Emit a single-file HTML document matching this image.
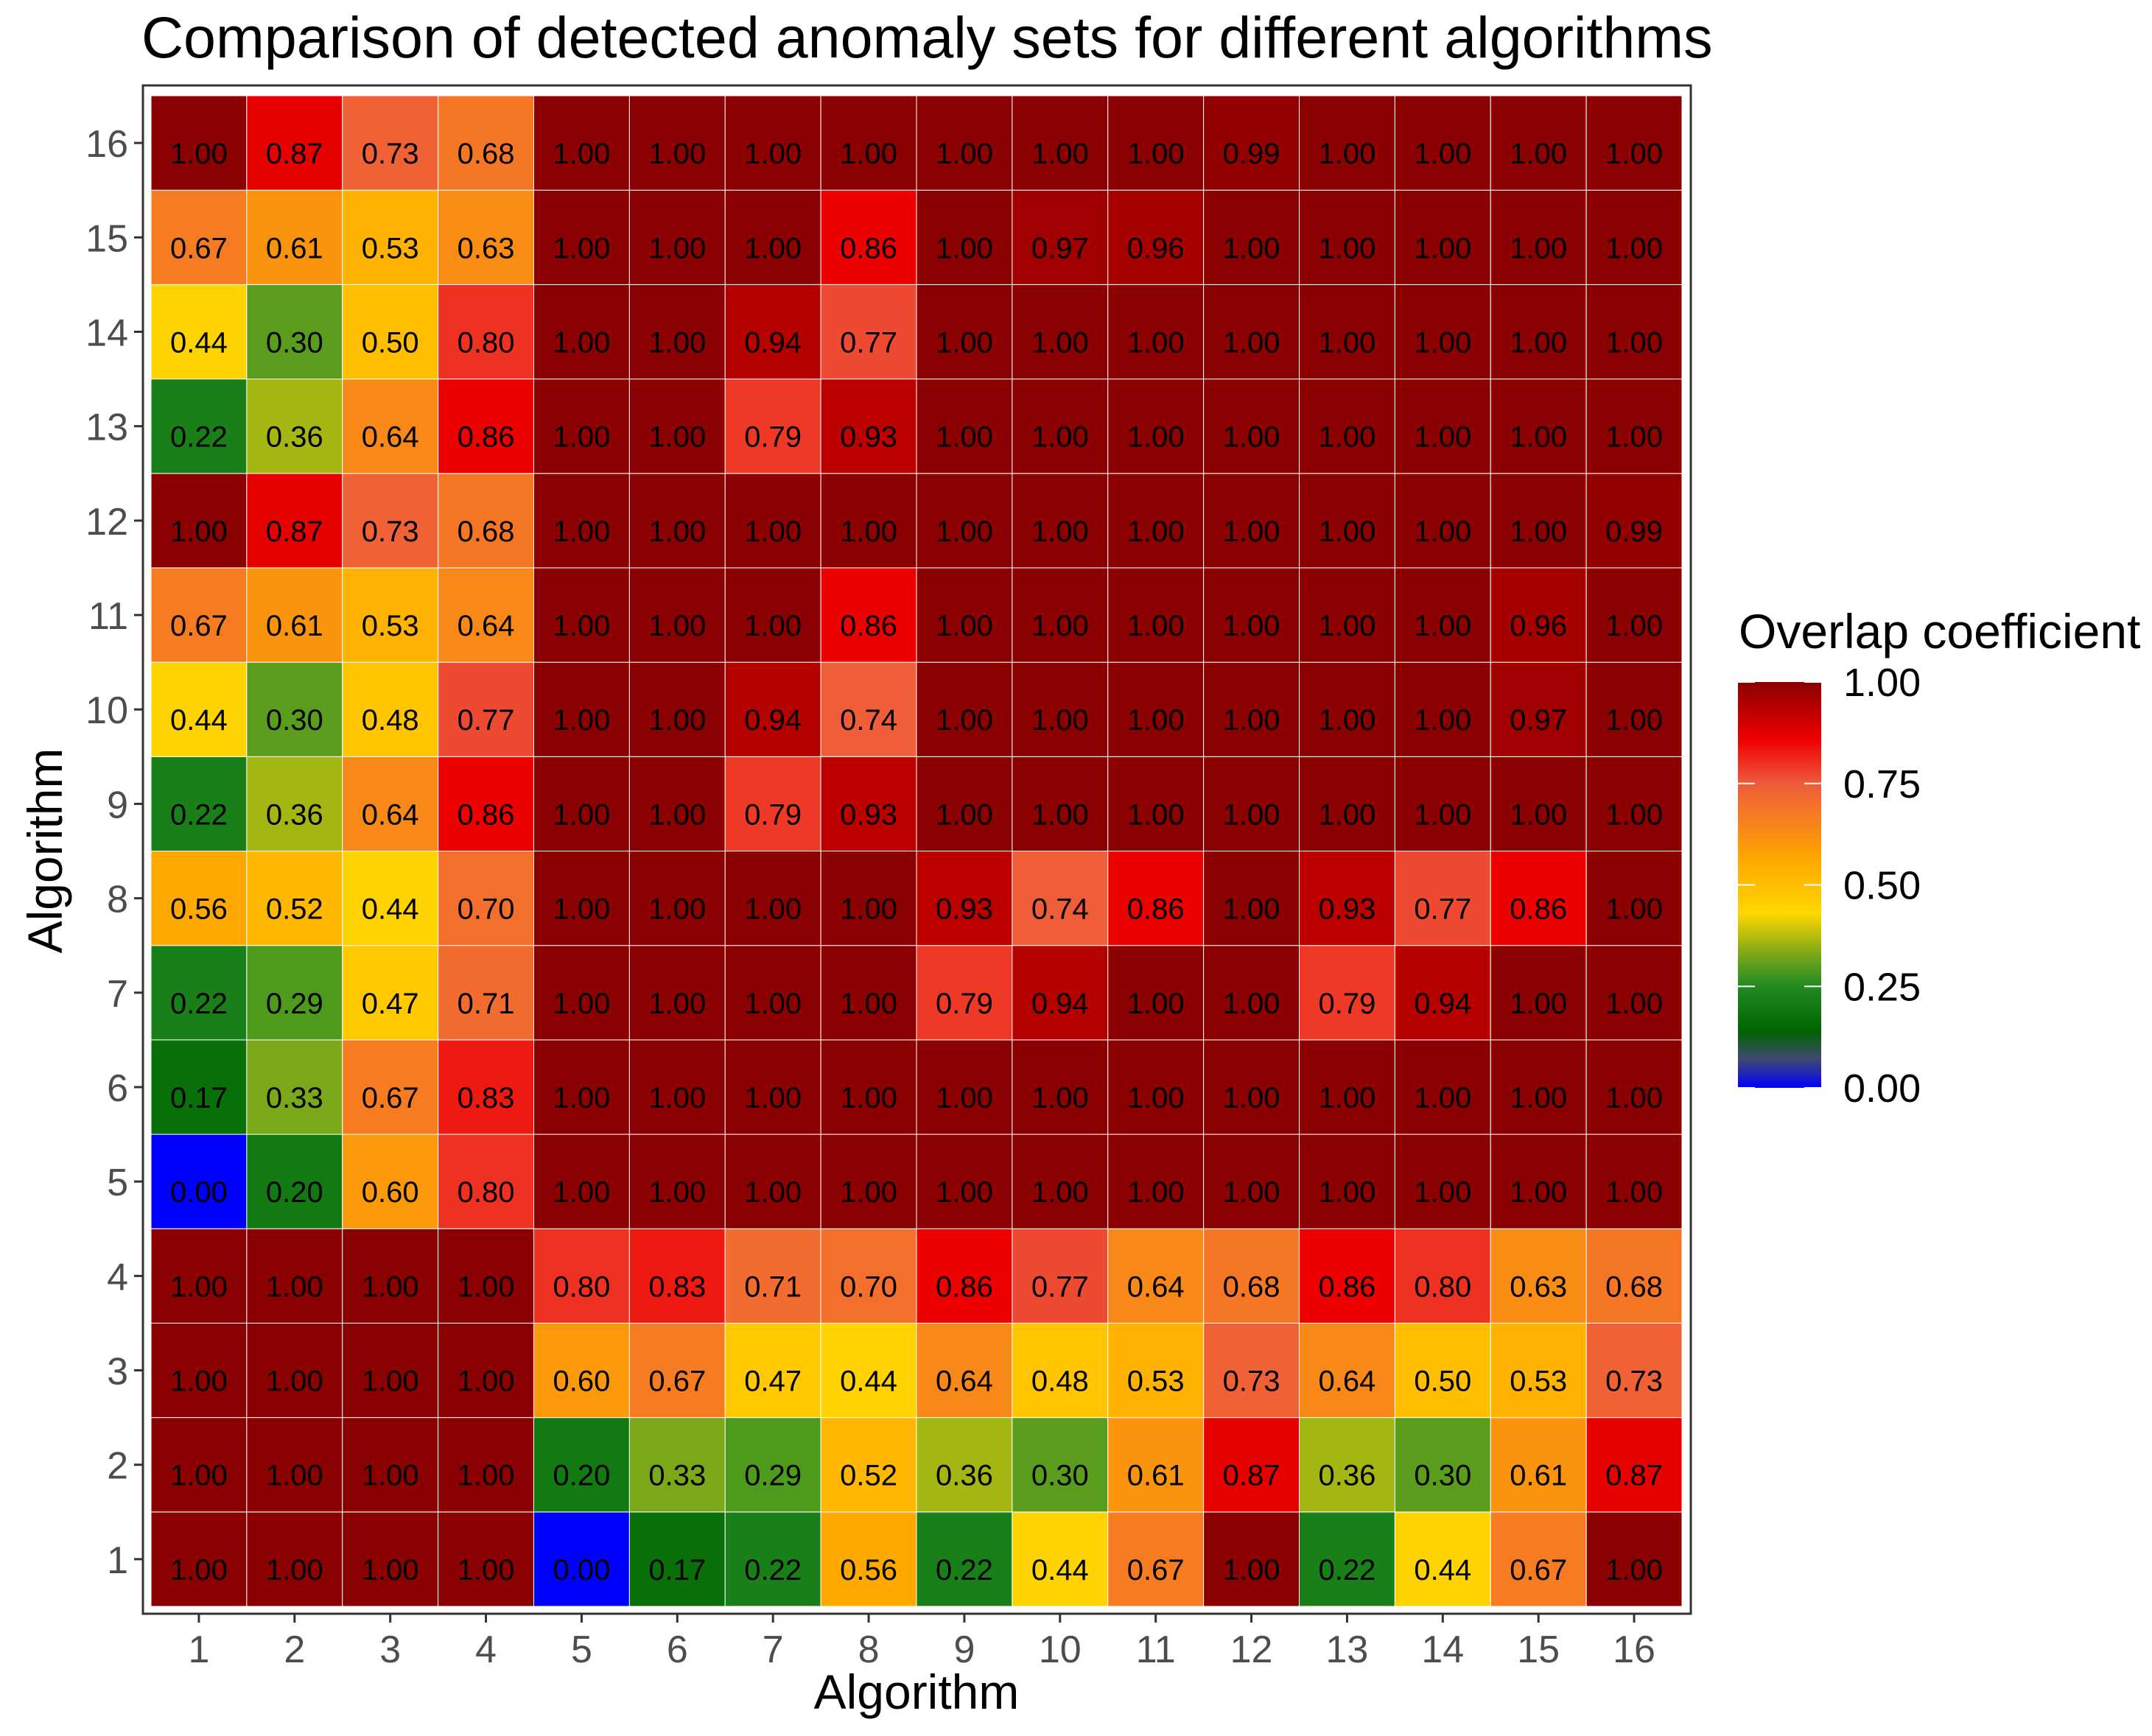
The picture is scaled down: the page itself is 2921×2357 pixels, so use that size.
<!DOCTYPE html>
<html><head><meta charset="utf-8"><style>
html,body{margin:0;padding:0;background:#fff;}
svg{display:block;font-family:"Liberation Sans",Arial,sans-serif;}
</style></head><body>
<svg id="chart" width="2921" height="2357" viewBox="0 0 2921 2357" xmlns="http://www.w3.org/2000/svg">
<defs>
<linearGradient id="lg" x1="0" y1="1" x2="0" y2="0">
<stop offset="0" stop-color="#0000FF"/>
<stop offset="0.07" stop-color="#404870"/>
<stop offset="0.14" stop-color="#006400"/>
<stop offset="0.25" stop-color="#228B22"/>
<stop offset="0.33" stop-color="#7BA818"/>
<stop offset="0.43" stop-color="#FFD700"/>
<stop offset="0.57" stop-color="#FFA500"/>
<stop offset="0.75" stop-color="#EE5A3C"/>
<stop offset="0.86" stop-color="#EE0000"/>
<stop offset="1" stop-color="#8B0000"/>
</linearGradient>
</defs>
<text x="192" y="78" font-size="79" fill="#000">Comparison of detected anomaly sets for different algorithms</text>
<g id="cells"></g>
<rect x="194" y="116" width="2101" height="2075" fill="none" stroke="#333" stroke-width="3"/>
<g id="axes"></g>
<text x="1244" y="2320" font-size="66" text-anchor="middle" fill="#000">Algorithm</text>
<text transform="translate(84,1155) rotate(-90)" font-size="66" text-anchor="middle" fill="#000">Algorithm</text>
<g>
<text x="2360" y="880" font-size="66" fill="#000">Overlap coefficient</text>
<rect x="2359" y="926" width="113" height="551" fill="url(#lg)"/>
<g id="legend-ticks"></g>
</g>
</svg>
<script>
const xCategories = [1,2,3,4,5,6,7,8,9,10,11,12,13,14,15,16];
const yCategories = [1,2,3,4,5,6,7,8,9,10,11,12,13,14,15,16];
// rows listed from y=1 (bottom) to y=16 (top); columns x=1..16
const row1  = [1,1,1,1,0,0.17,0.22,0.56,0.22,0.44,0.67,1,0.22,0.44,0.67,1];
const row2  = [1,1,1,1,0.20,0.33,0.29,0.52,0.36,0.30,0.61,0.87,0.36,0.30,0.61,0.87];
const row3  = [1,1,1,1,0.60,0.67,0.47,0.44,0.64,0.48,0.53,0.73,0.64,0.50,0.53,0.73];
const row4  = [1,1,1,1,0.80,0.83,0.71,0.70,0.86,0.77,0.64,0.68,0.86,0.80,0.63,0.68];
const row5  = [0,0.20,0.60,0.80,1,1,1,1,1,1,1,1,1,1,1,1];
const row6  = [0.17,0.33,0.67,0.83,1,1,1,1,1,1,1,1,1,1,1,1];
const row7  = [0.22,0.29,0.47,0.71,1,1,1,1,0.79,0.94,1,1,0.79,0.94,1,1];
const row8  = [0.56,0.52,0.44,0.70,1,1,1,1,0.93,0.74,0.86,1,0.93,0.77,0.86,1];
const row9  = [0.22,0.36,0.64,0.86,1,1,0.79,0.93,1,1,1,1,1,1,1,1];
const row10 = [0.44,0.30,0.48,0.77,1,1,0.94,0.74,1,1,1,1,1,1,0.97,1];
const row11 = [0.67,0.61,0.53,0.64,1,1,1,0.86,1,1,1,1,1,1,0.96,1];
const row12 = [1,0.87,0.73,0.68,1,1,1,1,1,1,1,1,1,1,1,0.99];
const row13 = [0.22,0.36,0.64,0.86,1,1,0.79,0.93,1,1,1,1,1,1,1,1];
const row14 = [0.44,0.30,0.50,0.80,1,1,0.94,0.77,1,1,1,1,1,1,1,1];
const row15 = [0.67,0.61,0.53,0.63,1,1,1,0.86,1,0.97,0.96,1,1,1,1,1];
const row16 = [1,0.87,0.73,0.68,1,1,1,1,1,1,1,0.99,1,1,1,1];
const rows = [row1,row2,row3,row4,row5,row6,row7,row8,row9,row10,row11,row12,row13,row14,row15,row16];
const legendTicks = [0,0.25,0.5,0.75,1];

const NS = "http://www.w3.org/2000/svg";
const X0 = 205, X1 = 2283, Y0 = 130, Y1 = 2181;
const cw = (X1 - X0) / xCategories.length, ch = (Y1 - Y0) / yCategories.length;
const xPos = i => X0 + i * cw;
const yPos = j => Y1 - (j + 1) * ch;
const stops = [[0,[0,0,255]],[0.14,[0,100,0]],[0.25,[34,139,34]],[0.33,[123,168,24]],[0.43,[255,215,0]],[0.57,[255,165,0]],[0.75,[238,90,60]],[0.86,[238,0,0]],[1,[139,0,0]]];
function color(v){
  for(let k=1;k<stops.length;k++){
    if(v<=stops[k][0]){
      const a=stops[k-1],b=stops[k],t=(v-a[0])/(b[0]-a[0]);
      const c=a[1].map((q,i)=>Math.round(q+(b[1][i]-q)*t));
      return `rgb(${c[0]},${c[1]},${c[2]})`;
    }
  }
  return "rgb(139,0,0)";
}
function mk(tag, attrs, parent){
  const e=document.createElementNS(NS,tag);
  for(const k in attrs) e.setAttribute(k,attrs[k]);
  parent.appendChild(e); return e;
}
const cells=document.getElementById('cells');
rows.forEach((row,j)=>{
  row.forEach((v,i)=>{
    const r=mk('rect',{x:xPos(i),y:yPos(j),width:cw,height:ch,fill:color(v),stroke:'#fff','stroke-width':1},cells);
    
    
    const t=mk('text',{x:xPos(i)+cw/2,y:yPos(j)+ch/2+28,'font-size':40,'text-anchor':'middle',fill:'#000'},cells);
    
    
    t.textContent=v.toFixed(2);
  });
});
const axes=document.getElementById('axes');
xCategories.forEach((c,i)=>{
  const cx=xPos(i)+cw/2;
  const tk=mk('line',{x1:cx,x2:cx,y1:2191,y2:2203,stroke:'#333','stroke-width':3},axes);
  
  
  const t=mk('text',{x:cx,y:2257,'font-size':52,'text-anchor':'middle',fill:'#4d4d4d'},axes);
  
  
  t.textContent=c;
});
yCategories.forEach((c,j)=>{
  const cy=yPos(j)+ch/2;
  const tk=mk('line',{x1:182,x2:194,y1:cy,y2:cy,stroke:'#333','stroke-width':3},axes);
  
  
  const t=mk('text',{x:174,y:cy+19,'font-size':52,'text-anchor':'end',fill:'#4d4d4d'},axes);
  
  
  t.textContent=c;
});
const lt=document.getElementById('legend-ticks');
legendTicks.forEach(v=>{
  const y=1477-v*551;
  const a=mk('line',{x1:2359,x2:2382,y1:y,y2:y,stroke:'#fff','stroke-width':2},lt);
  
  
  const b=mk('line',{x1:2449,x2:2472,y1:y,y2:y,stroke:'#fff','stroke-width':2},lt);
  
  
  const t=mk('text',{x:2502,y:y+19,'font-size':54,fill:'#000'},lt);
  
  
  t.textContent=v.toFixed(2);
});
</script>
</body></html>
